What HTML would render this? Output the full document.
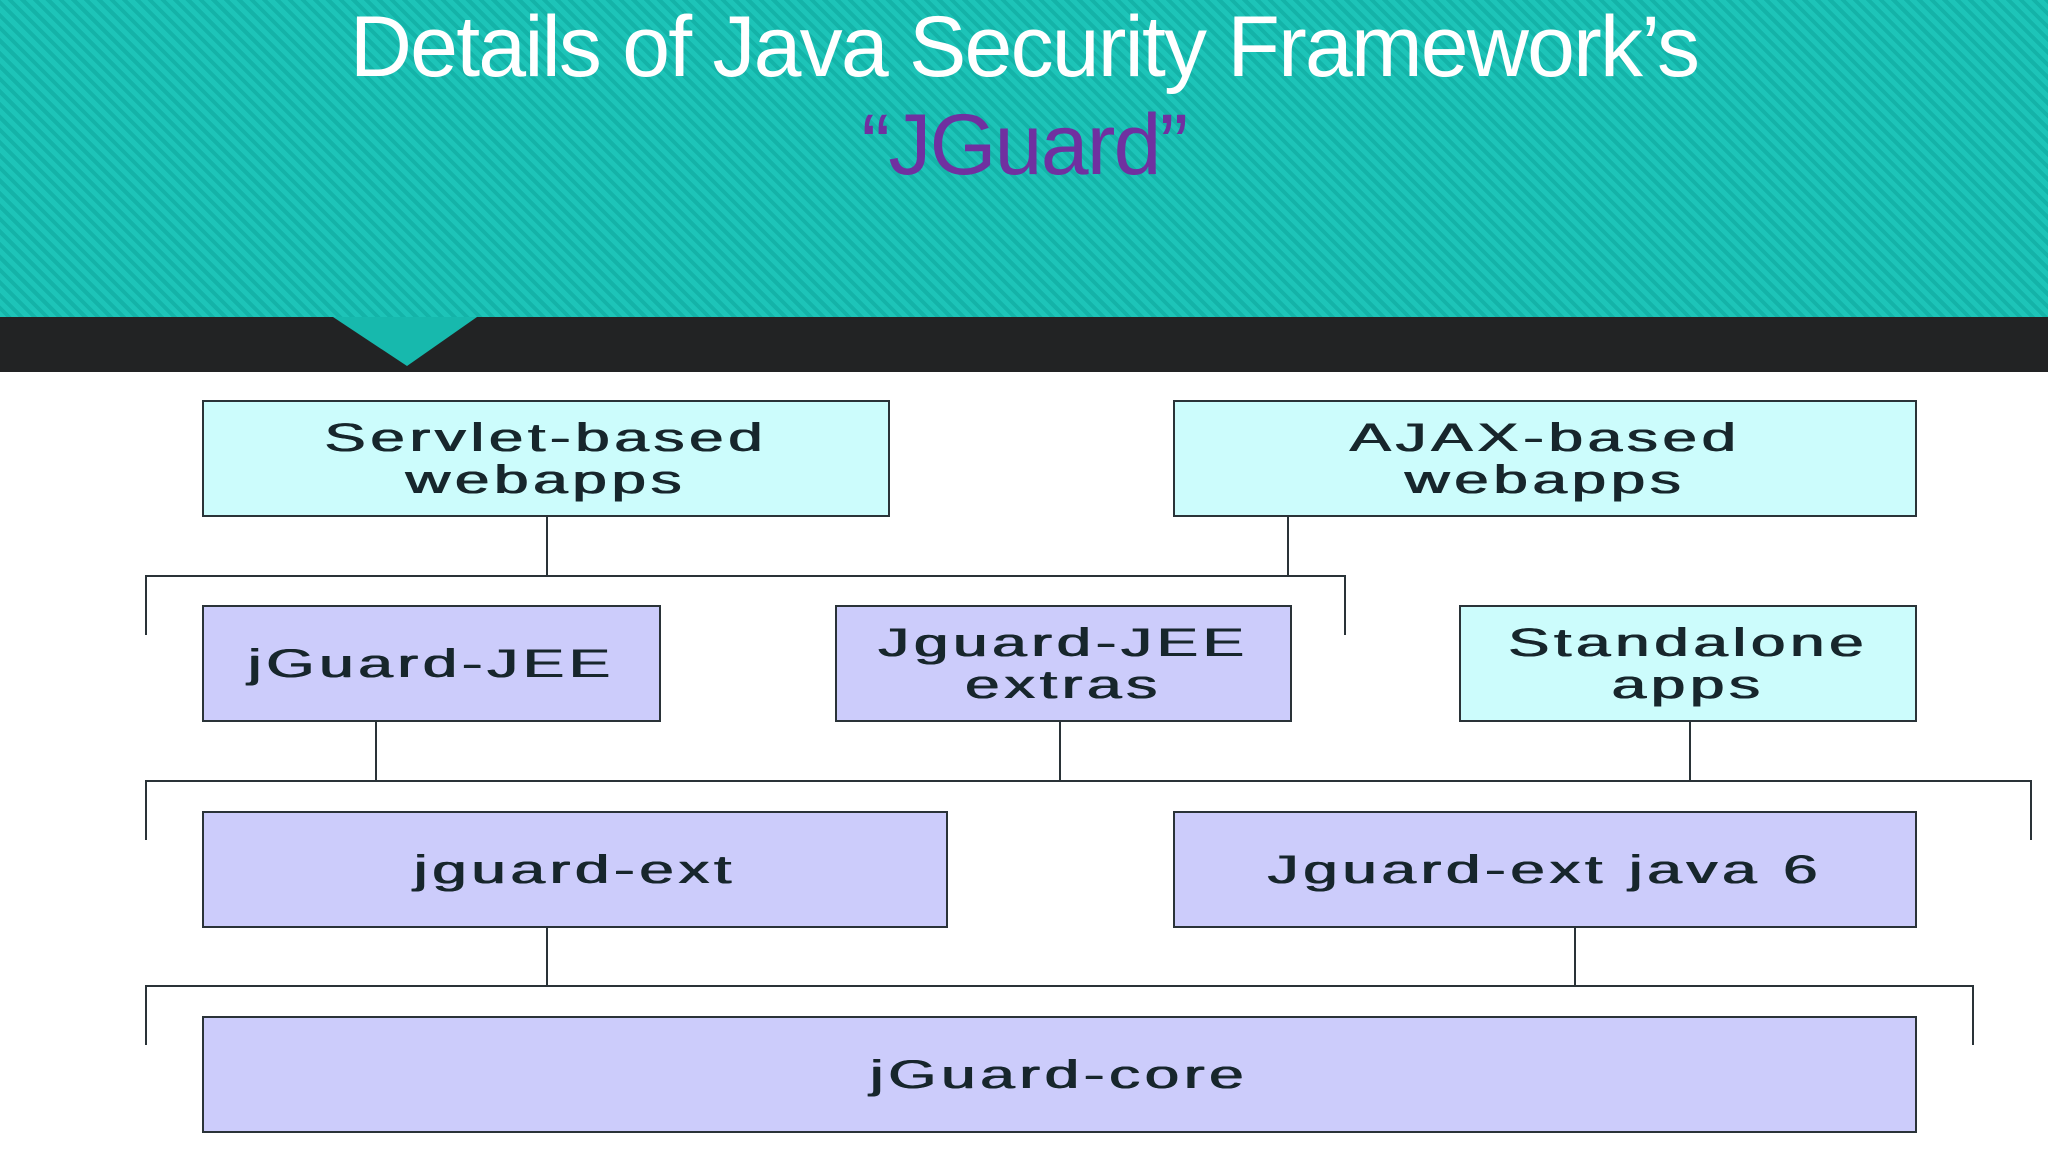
<!DOCTYPE html>
<html><head><style>
html,body{margin:0;padding:0;}
body{width:2048px;height:1152px;position:relative;overflow:hidden;background:#fff;font-family:"Liberation Sans",sans-serif;}
.hdr{position:absolute;left:0;top:0;width:2048px;height:318px;background:repeating-linear-gradient(45deg,#1dc4b8 0px,#1dc4b8 5px,#14b3a8 5px,#14b3a8 9px);}
.band{position:absolute;left:0;top:317px;width:2048px;height:55px;background:#222324;}
.t{position:absolute;left:0;width:2048px;text-align:center;font-weight:300;font-size:86px;letter-spacing:-1.8px;line-height:1;}
.b{position:absolute;box-sizing:border-box;border:2px solid #2a3338;display:flex;align-items:center;justify-content:center;text-align:center;font-size:40px;color:#17262c;}
.b span{display:inline-block;transform:scaleX(1.55);letter-spacing:3px;line-height:42px;text-shadow:0.5px 0 0 #17262c,-0.5px 0 0 #17262c;}
.c{background:#ccfcfc}.p{background:#ccccfb}
.l{position:absolute;background:#2a3338;}
</style></head><body>
<div class="hdr"></div>
<div class="band"></div>
<svg style="position:absolute;left:0;top:0" width="2048" height="380"><polygon points="333,317 477,317 407,366" fill="#17b9ad"/></svg>
<div class="t" style="top:4px;color:#fff;">Details of Java Security Framework’s</div>
<div class="t" style="top:102px;color:#7030a0;">“JGuard”</div>

<div class="b c" style="left:202px;top:400px;width:688px;height:117px;"><span>Servlet-based<br>webapps</span></div>
<div class="b c" style="left:1173px;top:400px;width:744px;height:117px;"><span>AJAX-based<br>webapps</span></div>
<div class="b p" style="left:202px;top:605px;width:459px;height:117px;"><span>jGuard-JEE</span></div>
<div class="b p" style="left:835px;top:605px;width:457px;height:117px;"><span>Jguard-JEE<br>extras</span></div>
<div class="b c" style="left:1459px;top:605px;width:458px;height:117px;"><span>Standalone<br>apps</span></div>
<div class="b p" style="left:202px;top:811px;width:746px;height:117px;"><span>jguard-ext</span></div>
<div class="b p" style="left:1173px;top:811px;width:744px;height:117px;"><span>Jguard-ext java 6</span></div>
<div class="b p" style="left:202px;top:1016px;width:1715px;height:117px;"><span>jGuard-core</span></div>

<div class="l" style="left:546px;top:517px;width:2px;height:59px"></div>
<div class="l" style="left:1287px;top:517px;width:2px;height:59px"></div>
<div class="l" style="left:145px;top:575px;width:1201px;height:2px"></div>
<div class="l" style="left:145px;top:575px;width:2px;height:60px"></div>
<div class="l" style="left:1344px;top:575px;width:2px;height:60px"></div>

<div class="l" style="left:375px;top:722px;width:2px;height:59px"></div>
<div class="l" style="left:1059px;top:722px;width:2px;height:59px"></div>
<div class="l" style="left:1689px;top:722px;width:2px;height:59px"></div>
<div class="l" style="left:145px;top:780px;width:1887px;height:2px"></div>
<div class="l" style="left:145px;top:780px;width:2px;height:60px"></div>
<div class="l" style="left:2030px;top:780px;width:2px;height:60px"></div>

<div class="l" style="left:546px;top:927px;width:2px;height:59px"></div>
<div class="l" style="left:1574px;top:927px;width:2px;height:59px"></div>
<div class="l" style="left:145px;top:985px;width:1829px;height:2px"></div>
<div class="l" style="left:145px;top:985px;width:2px;height:60px"></div>
<div class="l" style="left:1972px;top:985px;width:2px;height:60px"></div>
</body></html>
